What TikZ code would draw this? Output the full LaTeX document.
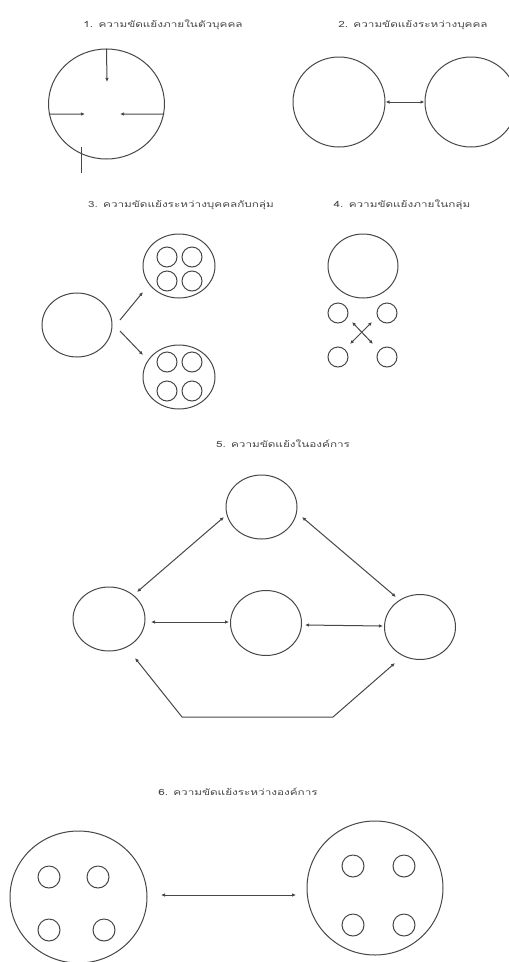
\documentclass[tikz,border=0pt]{standalone}
\usepackage{fontspec}
\newfontfamily\thaifont[Script=Thai]{Loma}
\usetikzlibrary{shapes.geometric,arrows.meta}
\newcommand\ttltext[1]{\scalebox{1.38}[1]{#1}}
\begin{document}
\begin{tikzpicture}[x=1pt,y=-1pt,
  ln/.style={draw=black!72,line width=1pt},
  ov/.style args={#1/#2}{ellipse,ln,inner sep=0pt,minimum width=#1pt,minimum height=#2pt},
  arr/.style={ln,-{Latex[length=4pt,width=3.5pt]}},
  dbl/.style={ln,{Latex[length=4pt,width=3.5pt]}-{Latex[length=4pt,width=3.5pt]}},
  ttl/.style={font=\thaifont\fontsize{8.5}{10}\selectfont,text=black!72,inner sep=0pt}]
\useasboundingbox[fill=white] (0,0) rectangle (509,962);

% 1
\node[ttl] (h1) at (163,25) {\ttltext{1. ความขัดแย้งภายในตัวบุคคล}};
\node[ov={116/110}] (c1) at (106.5,104) {};
\coordinate (c1t) at (107,82);
\coordinate (c1l) at (85,114);
\coordinate (c1r) at (120,114);
\coordinate (k1) at (81,147);
\coordinate (k2) at (81,173);
\draw[arr] (c1.north) -- (c1t);
\draw[arr] (c1.190) -- (c1l);
\draw[arr] (c1.350) -- (c1r);
\draw[ln] (k1) -- (k2);

% 2
\node[ttl] (h2) at (413,25) {\ttltext{2. ความขัดแย้งระหว่างบุคคล}};
\node[ov={92/90}] (p1) at (339,102) {};
\node[ov={92/90}] (p2) at (471,102) {};
\draw[dbl] (p1) -- (p2);

% 3
\node[ttl] (h3) at (181,205) {\ttltext{3. ความขัดแย้งระหว่างบุคคลกับกลุ่ม}};
\node[ov={70/64}] (s3) at (77,325) {};
\node[ov={72/64}] (g1) at (179,266) {};
\node[ov={20/20}] (g1a) at (167,257) {};
\node[ov={20/20}] (g1b) at (192,257) {};
\node[ov={20/20}] (g1c) at (167,281) {};
\node[ov={20/20}] (g1d) at (192,281) {};
\node[ov={72/64}] (g2) at (179,377) {};
\node[ov={20/20}] (g2a) at (167,362) {};
\node[ov={20/20}] (g2b) at (192,362) {};
\node[ov={20/20}] (g2c) at (167,391) {};
\node[ov={20/20}] (g2d) at (192,391) {};
\coordinate (a3s) at (120,320);
\coordinate (a3e) at (143,292);
\coordinate (b3s) at (120,331);
\coordinate (b3e) at (143,355);
\draw[arr] (a3s) -- (a3e);
\draw[arr] (b3s) -- (b3e);

% 4
\node[ttl] (h4) at (402,205) {\ttltext{4. ความขัดแย้งภายในกลุ่ม}};
\node[ov={70/64}] (q4) at (363,266) {};
\node[ov={20/20}] (q4a) at (338,313) {};
\node[ov={20/20}] (q4b) at (387,313) {};
\node[ov={20/20}] (q4c) at (338,357) {};
\node[ov={20/20}] (q4d) at (387,357) {};
\coordinate (x1) at (352,322);
\coordinate (x2) at (373,344);
\coordinate (x3) at (372,322);
\coordinate (x4) at (350,344);
\draw[dbl] (x1) -- (x2);
\draw[dbl] (x3) -- (x4);

% 5
\node[ttl] (h5) at (283,444) {\ttltext{5. ความขัดแย้งในองค์การ}};
\node[ov={71/64}] (o5t) at (261.5,507) {};
\node[ov={72/64}] (o5l) at (109,619) {};
\node[ov={71/65}] (o5m) at (266,623) {};
\node[ov={71/65}] (o5r) at (420,627) {};
\coordinate (e1) at (137,592);
\coordinate (e2) at (224,517);
\coordinate (e3) at (302,517);
\coordinate (e4) at (396,597);
\coordinate (e5) at (151,622);
\coordinate (e6) at (229,622);
\coordinate (e7) at (305,625);
\coordinate (e8) at (383,626);
\coordinate (e9) at (135,658);
\coordinate (e10) at (182,717);
\coordinate (e11) at (333,717);
\coordinate (e12) at (395,663);
\draw[dbl] (e1) -- (e2);
\draw[dbl] (e3) -- (e4);
\draw[dbl] (e5) -- (e6);
\draw[dbl] (e7) -- (e8);
\draw[dbl] (e9) -- (e10) -- (e11) -- (e12);

% 6
\node[ttl] (h6) at (238,792) {\ttltext{6. ความขัดแย้งระหว่างองค์การ}};
\node[ov={137/132}] (r6l) at (78.5,897) {};
\node[ov={22/22}] (r6la) at (49,877) {};
\node[ov={22/22}] (r6lb) at (98,877) {};
\node[ov={22/22}] (r6lc) at (49,930) {};
\node[ov={22/22}] (r6ld) at (104,930) {};
\node[ov={136/134}] (r6r) at (375,888) {};
\node[ov={22/22}] (r6ra) at (353,866) {};
\node[ov={22/22}] (r6rb) at (404,866) {};
\node[ov={22/22}] (r6rc) at (353,925) {};
\node[ov={22/22}] (r6rd) at (404,925) {};
\coordinate (f1) at (161,895);
\coordinate (f2) at (296,895);
\draw[dbl] (f1) -- (f2);
\end{tikzpicture}
\end{document}
